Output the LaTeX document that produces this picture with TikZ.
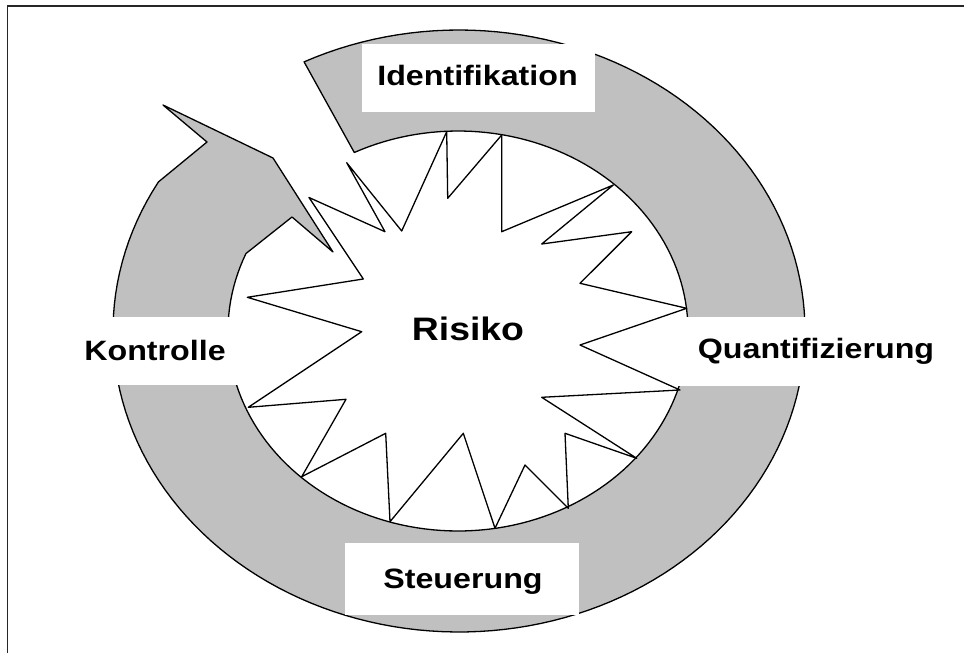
\documentclass[tikz,border=0pt]{standalone}
\usepackage{fontspec}
\newfontfamily\labfont{Liberation Sans}[FakeStretch=1.15]
\definecolor{ringgray}{RGB}{192,192,192}
\begin{document}
\begin{tikzpicture}[x=1pt,y=-1pt,
  ring/.style={fill=ringgray,draw=black,line width=1.3pt,line join=round},
  starline/.style={draw=black,line width=1.3pt,line join=round},
  whitebox/.style={fill=white,draw=none,inner sep=0pt,outer sep=0pt},
  lab/.style={inner sep=0pt,anchor=base,font=\labfont\bfseries\fontsize{28}{30}\selectfont},
  bigLab/.style={inner sep=0pt,anchor=base,font=\labfont\bfseries\fontsize{32.5}{34}\selectfont},
  frameline/.style={draw=black!85,line width=1.5pt}]
\useasboundingbox (0,0) rectangle (964,653);
% frame (top and left edges only)
\draw[frameline] (7.5,653) -- (7.5,6) -- (964,6);
% ring with arrow head
\draw[ring]
  plot[domain=-116.6:209.7,samples=160] ({459+346*cos(\x)},{331+301*sin(\x)})
  -- (207,142) -- (163,105) -- (273,158) -- (333,252) -- (292,217)
  -- plot[domain=202.8:-116.8,samples=160] ({458+230*cos(\x)},{331+200*sin(\x)})
  -- cycle;
% white bands and label boxes
\node[whitebox,minimum width=140pt,minimum height=68pt] (leftband) at (170,351) {};
\node[whitebox,minimum width=140pt,minimum height=69pt] (rightband) at (746,351.5) {};
\node[whitebox,minimum width=233pt,minimum height=68pt] (idbox) at (478.5,78) {};
\node[whitebox,minimum width=234pt,minimum height=72pt] (stbox) at (462,579) {};
% star
\draw[starline] (446.7,131.7) -- (447.7,198.3) -- (501.7,135) -- (501.7,231.7)
  -- (613.3,185) -- (541.7,244) -- (631.7,231.7) -- (580,283.3)
  -- (686.7,308.3) -- (580,345) -- (680,390) -- (541.7,397.3)
  -- (636.7,458.3) -- (565,433.3) -- (568.3,508.3) -- (525,465)
  -- (495,528.3) -- (463.3,433.3) -- (390,521.7) -- (385.7,433.3)
  -- (301.7,476.7) -- (346,399.3) -- (248.3,407.3) -- (361.7,331.7)
  -- (247.3,297.3) -- (363.3,279) -- (309,197.5) -- (385,231.7)
  -- (346.7,162.7) -- (401.7,231) -- cycle;
% labels
\node[lab] (ident) at (477.5,85) {Identifikation};
\node[lab] (kontr) at (155,360) {Kontrolle};
\node[lab] (quant) at (816,358.3) {Quantifizierung};
\node[lab] (steuer) at (463,588.3) {Steuerung};
\node[bigLab] (risiko) at (468,340) {Risiko};
\end{tikzpicture}
\end{document}
